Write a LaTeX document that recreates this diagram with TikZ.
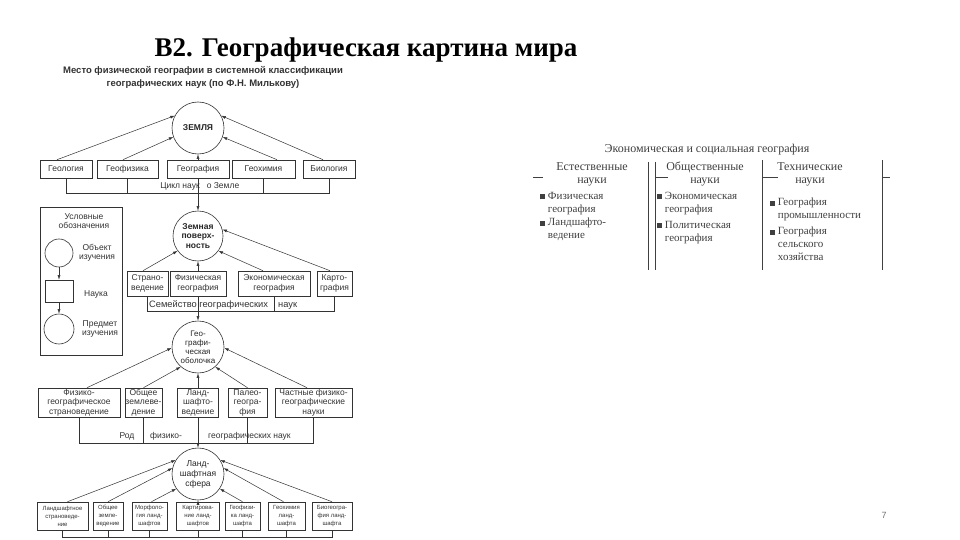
\documentclass[tikz,border=0pt]{standalone}
\usepackage{fontspec}
\setmainfont{Liberation Serif}
\setsansfont{Liberation Sans}
\usetikzlibrary{arrows.meta,positioning}
\tikzset{
  sci/.style={draw=black!80, line width=0.6pt, align=center, inner sep=0pt, font=\sffamily\fontsize{8.5}{9.5}\selectfont, text=black!80},
  tinysci/.style={sci, font=\sffamily\fontsize{6}{8}\selectfont},
  obj/.style={circle, draw=black!80, line width=0.6pt, align=center, inner sep=0pt, font=\sffamily\fontsize{8.5}{9.5}\selectfont, text=black!85},
  note/.style={inner sep=0pt, align=center, font=\sffamily\fontsize{8.5}{9.5}\selectfont, text=black!80},
  arr/.style={-{Latex[length=4.5pt,width=3pt]}, line width=0.5pt, draw=black!80},
  brk/.style={line width=0.5pt, draw=black!80},
  tab/.style={inner sep=0pt, align=left, font=\fontsize{11}{13}\selectfont, text=black!75},
  tabhead/.style={tab, align=center, font=\fontsize{12}{13}\selectfont},
  tabline/.style={line width=0.5pt, draw=black!75}
}
\newcommand{\sqmark}{\rule{5pt}{5pt}}

\begin{document}
\begin{tikzpicture}[x=1pt, y=-1pt]
\useasboundingbox (0,0) rectangle (960,540);
\fill[white] (0,0) rectangle (960,540);

% title
\node[anchor=base, inner sep=0pt, font=\bfseries\fontsize{27}{30}\selectfont] (title) at (366,57) {В2. Географическая картина мира};
\node[note, font=\sffamily\bfseries\fontsize{9.5}{13}\selectfont] (subt) at (203,77) {Место физической географии в системной классификации\\географических наук (по Ф.Н. Милькову)};

% objects of study
\node[obj, minimum size=52, font=\sffamily\bfseries\fontsize{8.5}{9.5}\selectfont] (earth) at (198,128) {ЗЕМЛЯ};
\node[obj, minimum size=50, font=\sffamily\bfseries\fontsize{8.5}{9.5}\selectfont] (surf) at (198,236) {Земная\\поверх-\\ность};
\node[obj, minimum size=52, font=\sffamily\fontsize{8}{9}\selectfont] (shell) at (198,347) {Гео-\\графи-\\ческая\\оболочка};
\node[obj, minimum size=52, font=\sffamily\fontsize{8.5}{10}\selectfont] (lsph) at (198,474) {Ланд-\\шафтная\\сфера};

% cycle of earth sciences
\node[sci, minimum width=52, minimum height=18] (geol) at (66,169) {Геология};
\node[sci, minimum width=61, minimum height=18] (geof) at (127.5,169) {Геофизика};
\node[sci, minimum width=62, minimum height=18] (geog) at (198,169) {География};
\node[sci, minimum width=63, minimum height=18] (geoch) at (263.5,169) {Геохимия};
\node[sci, minimum width=52, minimum height=18] (bio) at (329,169) {Биология};
\draw[arr] ([xshift=-9pt]geol.north) -- (earth.152);
\draw[arr] ([xshift=-4.5pt]geof.north) -- (earth.200);
\draw[arr] (geog.north) -- (earth.south);
\draw[arr] ([xshift=13.5pt]geoch.north) -- (earth.340);
\draw[arr] ([xshift=-6pt]bio.north) -- (earth.28);
\coordinate (cyc) at (0,193);
\draw[brk] (geol.south) |- (cyc -| bio.south) -- (bio.south);
\draw[brk] (geof.south) -- (geof.south |- cyc);
\draw[brk] (geoch.south) -- (geoch.south |- cyc);
\draw[arr] (geog.south) -- (surf.north);
\node[note] (cyclbl1) at (180,186) {Цикл наук};
\node[note] (cyclbl2) at (223,186) {о Земле};

% family of geographical sciences
\node[sci, minimum width=41, minimum height=25] (strano) at (147.5,283.5) {Страно-\\ведение};
\node[sci, minimum width=56, minimum height=25] (fiz) at (198,283.5) {Физическая\\география};
\node[sci, minimum width=72, minimum height=25] (ekon) at (274,283.5) {Экономическая\\география};
\node[sci, minimum width=35, minimum height=25] (kart) at (334.5,283.5) {Карто-\\графия};
\draw[arr] ([xshift=-4.5pt]strano.north) -- (surf.216);
\draw[arr] (fiz.north) -- (surf.south);
\draw[arr] ([xshift=-11pt]ekon.north) -- (surf.324);
\draw[arr] ([xshift=-4.5pt]kart.north) -- (surf.15);
\coordinate (fam) at (0,311);
\draw[brk] (strano.south) |- (fam -| kart.south) -- (kart.south);
\draw[brk] (ekon.south) -- (ekon.south |- fam);
\draw[arr] (fiz.south) -- (shell.north);
\node[note, anchor=base west, font=\sffamily\fontsize{9.3}{10}\selectfont] (famlbl1) at (149,307) {Семейство географических};
\node[note, anchor=base west, font=\sffamily\fontsize{9.3}{10}\selectfont] (famlbl2) at (278,307) {наук};

% genus of physical-geographical sciences
\node[sci, minimum width=82, minimum height=29] (fgs) at (79,402.5) {Физико-\\географическое\\страноведение};
\node[sci, minimum width=37, minimum height=29] (obz) at (143.5,402.5) {Общее\\землеве-\\дение};
\node[sci, minimum width=41, minimum height=29] (lands) at (198,402.5) {Ланд-\\шафто-\\ведение};
\node[sci, minimum width=39, minimum height=29] (paleo) at (247.5,402.5) {Палео-\\геогра-\\фия};
\node[sci, minimum width=77, minimum height=29] (chast) at (313.5,402.5) {Частные физико-\\географические\\науки};
\draw[arr] ([xshift=8pt]fgs.north) -- (shell.182);
\draw[arr] (obz.north) -- (shell.229);
\draw[arr] (lands.north) -- (shell.south);
\draw[arr] (paleo.north) -- (shell.311);
\draw[arr] ([xshift=-6.5pt]chast.north) -- (shell.358);
\coordinate (gen) at (0,443);
\draw[brk] (fgs.south) |- (gen -| chast.south) -- (chast.south);
\draw[brk] (obz.south) -- (obz.south |- gen);
\draw[brk] (paleo.south) -- (paleo.south |- gen);
\draw[arr] (lands.south) -- (lsph.north);
\node[note] (genlbl1) at (127,436) {Род};
\node[note] (genlbl2) at (166,436) {физико-};
\node[note, anchor=west] (genlbl3) at (208,436) {географических наук};

% landscape sciences
\node[tinysci, minimum width=51, minimum height=28] (lb1) at (62.5,516) {Ландшафтное\\страноведе-\\ние};
\node[tinysci, minimum width=30, minimum height=28] (lb2) at (108,516) {Общее\\земле-\\ведение};
\node[tinysci, minimum width=35, minimum height=28] (lb3) at (149.5,516) {Морфоло-\\гия ланд-\\шафтов};
\node[tinysci, minimum width=43, minimum height=28] (lb4) at (198,516) {Картирова-\\ние ланд-\\шафтов};
\node[tinysci, minimum width=35, minimum height=28] (lb5) at (242.5,516) {Геофизи-\\ка ланд-\\шафта};
\node[tinysci, minimum width=37, minimum height=28] (lb6) at (286.5,516) {Геохимия\\ланд-\\шафта};
\node[tinysci, minimum width=40, minimum height=28] (lb7) at (332,516) {Биогеогра-\\фия ланд-\\шафта};
\draw[arr] ([xshift=5pt]lb1.north) -- (lsph.148);
\draw[arr] (lb2.north) -- (lsph.167);
\draw[arr] ([xshift=2pt]lb3.north) -- (lsph.214);
\draw[arr] (lb4.north) -- (lsph.south);
\draw[arr] (lb5.north) -- (lsph.326);
\draw[arr] ([xshift=-3pt]lb6.north) -- (lsph.13);
\draw[arr] (lb7.north) -- (lsph.32);
\coordinate (bot) at (0,537);
\draw[brk] (lb1.south) |- (bot -| lb7.south) -- (lb7.south);
\foreach \b in {lb2,lb3,lb4,lb5,lb6}
  \draw[brk] (\b.south) -- (\b.south |- bot);

% legend
\node[draw=black!80, line width=0.6pt, minimum width=82, minimum height=148] (legend) at (81,281) {};
\node[note] (legtitle) at (84,221) {Условные\\обозначения};
\node[obj, minimum size=28] (legobj) at (59,253) {};
\node[note] (legobjlbl) at (97,253) {Объект\\изучения};
\node[sci, minimum width=28, minimum height=22] (legsci) at (59,291) {};
\node[note] (legscilbl) at (96,294) {Наука};
\node[obj, minimum size=30] (legsub) at (59,329) {};
\node[note] (legsublbl) at (100,329) {Предмет\\изучения};
\draw[arr] (legobj.south) -- (legsci.north);
\draw[arr] (legsci.south) -- (legsub.north);

% economic and social geography
\node[tabhead] (esg) at (707,150) {Экономическая и социальная география};
\node[tabhead] (natur) at (592,174) {Естественные\\науки};
\node[tabhead] (soc) at (705,174) {Общественные\\науки};
\node[tabhead] (tech) at (810,174) {Технические\\науки};
\draw[tabline] (648,162) -- (648,270);
\draw[tabline] (655,162) -- (655,270);
\draw[tabline] (762,160) -- (762,270);
\draw[tabline] (882,160) -- (882,270);
\draw[tabline] (533,177) -- (543,177);
\draw[tabline] (655,177) -- (668,177);
\draw[tabline] (762,177) -- (778,177);
\draw[tabline] (882,177) -- (890,177);
\node[tab, anchor=north west] (nat1) at (540,192) {\sqmark\ Физическая\\\phantom{\sqmark\ }география};
\node[tab, anchor=north west] (nat2) at (540,218) {\sqmark\ Ландшафто-\\\phantom{\sqmark\ }ведение};
\node[tab, anchor=north west] (soc1) at (657,192) {\sqmark\ Экономическая\\\phantom{\sqmark\ }география};
\node[tab, anchor=north west] (soc2) at (657,221) {\sqmark\ Политическая\\\phantom{\sqmark\ }география};
\node[tab, anchor=north west] (tech1) at (770,198) {\sqmark\ География\\\phantom{\sqmark\ }промышленности};
\node[tab, anchor=north west] (tech2) at (770,227) {\sqmark\ География\\\phantom{\sqmark\ }сельского\\\phantom{\sqmark\ }хозяйства};

\node[inner sep=0pt, font=\sffamily\fontsize{9}{9}\selectfont, text=black!55] (pnum) at (884,515) {7};
\end{tikzpicture}
\end{document}
